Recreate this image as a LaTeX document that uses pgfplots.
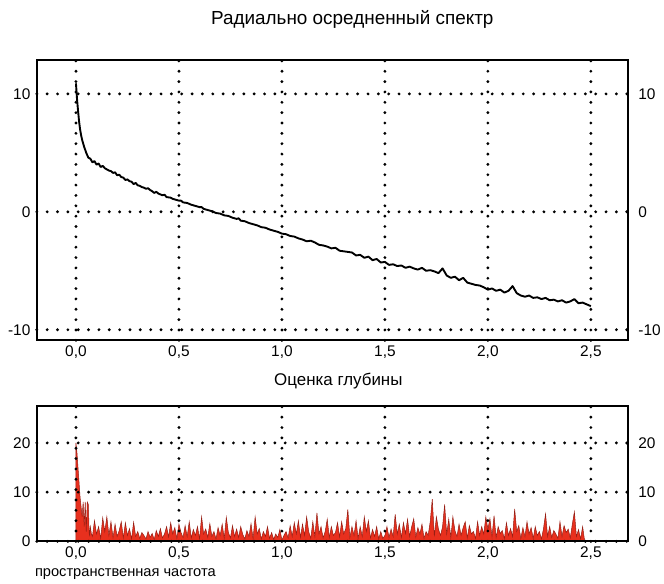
\documentclass[border=0pt]{standalone}
\usepackage{fontspec}
\setmainfont{Liberation Sans}
\usepackage{pgfplots}
\pgfplotsset{compat=1.18}

\definecolor{spred}{RGB}{232,48,30}
\definecolor{spdark}{RGB}{150,30,20}

\pgfplotsset{
  dotgrid/.style={line width=3.2bp, line cap=round, dash pattern=on 0pt off 10.4bp, black},
  base/.style={
    scale only axis, width=594bp,
    xmin=-0.19, xmax=2.68,
    axis line style={line width=2.2bp},
    major tick length=0pt,
    tick style={draw=none},
    grid=major, major grid style={dotgrid},
    axis on top,
    xtick={0,0.5,1,1.5,2,2.5},
    xticklabels={{0,0},{0,5},{1,0},{1,5},{2,0},{2,5}},
    tick label style={font=\fontsize{15.5bp}{18bp}\selectfont},
    xticklabel style={yshift=-2bp},
    yticklabel style={xshift=-3bp},
  },
  rightax/.style={
    scale only axis, width=594bp,
    xmin=-0.19, xmax=2.68,
    hide x axis,
    axis y line*=right,
    y axis line style={draw=none},
    major tick length=0pt,
    tick style={draw=none},
    tick label style={font=\fontsize{15.5bp}{18bp}\selectfont},
    yticklabel style={xshift=7bp},
  },
}

\begin{document}
\begin{tikzpicture}
\path (0,0) rectangle (664bp,-586bp);

% ---------- top axis ----------
\begin{axis}[base, at={(37bp,-60bp)}, anchor=north west, height=282bp,
  ymin=-10.9, ymax=12.9, ytick={-10,0,10}, yticklabels={-10,0,10}]
\addplot[black, line width=1.9bp, line join=round] coordinates {
(0.000,10.9) (0.005,9.6) (0.010,8.6) (0.015,7.7) (0.020,7.0) (0.025,6.5) (0.030,6.1)
(0.040,5.5) (0.050,5.0) (0.060,4.6) (0.070,4.5) (0.080,4.2) (0.090,4.3) (0.100,4.0)
(0.11,4.1) (0.12,3.8) (0.13,3.9) (0.14,3.7) (0.15,3.6) (0.16,3.5) (0.17,3.45) (0.18,3.3)
(0.19,3.35) (0.20,3.1) (0.21,3.15) (0.22,2.95) (0.23,2.9) (0.24,2.7) (0.25,2.75) (0.26,2.6)
(0.27,2.55) (0.28,2.35) (0.29,2.45) (0.30,2.25) (0.31,2.2) (0.32,2.1) (0.33,2.05) (0.34,1.95)
(0.35,2.0) (0.36,1.85) (0.37,1.75) (0.38,1.6) (0.39,1.7) (0.40,1.55)
(0.42,1.4) (0.43,1.45) (0.44,1.25) (0.46,1.2) (0.47,1.1) (0.48,1.05) (0.50,0.95) (0.51,0.95) (0.52,0.8) (0.54,0.75)
(0.56,0.6) (0.58,0.5) (0.60,0.4) (0.61,0.4) (0.62,0.25) (0.64,0.15) (0.66,0.05) (0.68,-0.1)
(0.70,-0.15) (0.72,-0.3) (0.74,-0.35) (0.76,-0.5) (0.78,-0.6) (0.79,-0.55) (0.80,-0.75) (0.82,-0.8)
(0.84,-0.95) (0.86,-1.05) (0.88,-1.15) (0.90,-1.3) (0.92,-1.35) (0.94,-1.5) (0.96,-1.6)
(0.98,-1.7) (1.00,-1.85) (1.02,-1.9) (1.04,-2.05) (1.06,-2.1) (1.08,-2.25) (1.10,-2.35)
(1.12,-2.5) (1.14,-2.45) (1.16,-2.6) (1.18,-2.8) (1.20,-2.85) (1.22,-2.95) (1.24,-3.1)
(1.26,-3.05) (1.28,-3.3) (1.30,-3.35) (1.32,-3.4) (1.34,-3.45) (1.36,-3.7) (1.38,-3.65)
(1.40,-3.9) (1.42,-3.8) (1.44,-4.1) (1.46,-4.0) (1.48,-4.3) (1.50,-4.25) (1.52,-4.5)
(1.54,-4.45) (1.56,-4.6) (1.58,-4.55) (1.60,-4.75) (1.62,-4.65) (1.64,-4.8) (1.66,-4.9)
(1.68,-4.75) (1.70,-5.0) (1.72,-4.95) (1.74,-5.05) (1.76,-5.2) (1.78,-4.8) (1.80,-5.4)
(1.82,-5.6) (1.84,-5.5) (1.86,-5.8) (1.88,-5.6) (1.90,-6.0) (1.92,-6.1) (1.94,-6.2)
(1.96,-6.25) (1.98,-6.4) (2.00,-6.6) (2.02,-6.5) (2.04,-6.7) (2.06,-6.6) (2.08,-6.85)
(2.10,-6.7) (2.12,-6.3) (2.14,-6.9) (2.16,-7.1) (2.18,-7.2) (2.20,-7.1) (2.22,-7.3)
(2.24,-7.25) (2.26,-7.4) (2.28,-7.3) (2.30,-7.5) (2.32,-7.45) (2.34,-7.6) (2.36,-7.5)
(2.38,-7.7) (2.40,-7.6) (2.42,-7.4) (2.44,-7.75) (2.46,-7.7) (2.48,-7.85) (2.50,-8.0)
};
\end{axis}
\begin{axis}[rightax, at={(37bp,-60bp)}, anchor=north west, height=282bp,
  ymin=-10.9, ymax=12.9, ytick={-10,0,10}, yticklabels={-10,0,10}]
\end{axis}

% ---------- bottom axis ----------
\begin{axis}[base, at={(37bp,-408bp)}, anchor=north west, height=136bp,
  ymin=0, ymax=27.5, ytick={0,10,20}, yticklabels={0,10,20}]
\addplot[draw=spdark, line width=0.5bp, fill=spred] table[row sep=\\] {
x y\\
0.000 20\\ 0.005 18\\ 0.010 15\\ 0.015 12\\ 0.020 9\\ 0.025 7\\ 0.030 5\\ 0.035 8\\
0.040 3\\ 0.045 8\\ 0.050 2\\ 0.055 8\\ 0.060 7.5\\ 0.065 1\\ 0.070 3\\ 0.075 1.5\\
0.08 1.0\\ 0.09 4.2\\ 0.10 1.5\\ 0.11 3.0\\ 0.12 0.6\\ 0.13 4.8\\ 0.14 2.0\\ 0.15 5.0\\ 0.16 1.2\\ 0.17 4.0\\
0.18 0.8\\ 0.19 3.5\\ 0.20 1.0\\ 0.21 2.2\\ 0.22 4.0\\ 0.23 0.7\\ 0.24 3.8\\ 0.25 1.2\\ 0.26 2.6\\ 0.27 0.5\\
0.28 3.9\\ 0.29 1.0\\ 0.30 2.0\\ 0.31 0.6\\ 0.32 1.8\\ 0.33 1.2\\ 0.34 0.5\\ 0.35 2.0\\ 0.36 0.8\\ 0.37 1.6\\
0.38 0.4\\ 0.39 2.2\\ 0.40 1.0\\ 0.41 2.6\\ 0.42 0.7\\ 0.43 1.5\\ 0.44 3.0\\ 0.45 0.9\\ 0.46 3.8\\ 0.47 1.5\\
0.48 2.8\\ 0.49 0.6\\ 0.50 3.5\\ 0.51 1.8\\ 0.52 0.8\\ 0.53 3.2\\ 0.54 1.0\\ 0.55 4.0\\ 0.56 0.7\\ 0.57 2.4\\
0.58 1.2\\ 0.59 3.0\\ 0.60 0.5\\ 0.61 5.0\\ 0.62 1.5\\ 0.63 2.5\\ 0.64 0.8\\ 0.65 3.6\\ 0.66 1.0\\ 0.67 2.0\\
0.68 0.5\\ 0.69 2.8\\ 0.70 1.2\\ 0.71 3.5\\ 0.72 0.6\\ 0.73 4.9\\ 0.74 1.8\\ 0.75 0.7\\ 0.76 3.2\\ 0.77 1.0\\
0.78 2.5\\ 0.79 0.8\\ 0.80 3.0\\ 0.81 1.4\\ 0.82 0.5\\ 0.83 2.2\\ 0.84 1.0\\ 0.85 3.6\\ 0.86 0.6\\ 0.87 5.0\\
0.88 1.5\\ 0.89 2.6\\ 0.90 0.5\\ 0.91 2.0\\ 0.92 1.0\\ 0.93 3.0\\ 0.94 0.6\\ 0.95 1.8\\ 0.96 0.4\\ 0.97 1.5\\
0.98 0.8\\ 0.99 2.4\\ 1.00 0.3\\ 1.01 1.2\\ 1.02 2.0\\ 1.03 0.7\\ 1.04 3.2\\ 1.05 1.0\\ 1.06 3.8\\ 1.07 1.5\\
1.08 4.2\\ 1.09 0.8\\ 1.10 3.5\\ 1.11 1.2\\ 1.12 5.0\\ 1.13 2.0\\ 1.14 0.6\\ 1.15 4.0\\ 1.16 1.0\\ 1.17 5.8\\
1.18 1.5\\ 1.19 3.0\\ 1.20 0.7\\ 1.21 2.0\\ 1.22 4.5\\ 1.23 0.8\\ 1.24 3.0\\ 1.25 1.2\\ 1.26 1.8\\ 1.27 3.8\\
1.28 0.9\\ 1.29 4.0\\ 1.30 1.5\\ 1.31 2.6\\ 1.32 6.5\\ 1.33 0.8\\ 1.34 3.0\\ 1.35 1.2\\ 1.36 4.2\\ 1.37 0.6\\
1.38 3.0\\ 1.39 1.0\\ 1.40 5.0\\ 1.41 2.0\\ 1.42 4.2\\ 1.43 0.7\\ 1.44 2.4\\ 1.45 1.0\\ 1.46 3.0\\ 1.47 0.5\\
1.48 2.0\\ 1.49 0.6\\ 1.50 1.2\\ 1.51 3.0\\ 1.52 0.8\\ 1.53 2.5\\ 1.54 1.0\\ 1.55 5.5\\ 1.56 1.5\\ 1.57 3.5\\
1.58 0.8\\ 1.59 3.8\\ 1.60 1.6\\ 1.61 4.5\\ 1.62 1.0\\ 1.63 3.0\\ 1.64 4.6\\ 1.65 0.9\\ 1.66 2.8\\ 1.67 1.5\\
1.68 3.5\\ 1.69 0.6\\ 1.70 2.0\\ 1.71 1.2\\ 1.72 4.0\\ 1.73 8.6\\ 1.74 1.0\\ 1.75 5.0\\ 1.76 2.5\\ 1.77 1.2\\
1.78 3.0\\ 1.79 7.5\\ 1.80 1.5\\ 1.81 4.5\\ 1.82 0.8\\ 1.83 5.0\\ 1.84 2.2\\ 1.85 1.0\\ 1.86 3.5\\ 1.87 1.2\\
1.88 2.8\\ 1.89 4.0\\ 1.90 0.7\\ 1.91 3.2\\ 1.92 1.5\\ 1.93 2.0\\ 1.94 0.6\\ 1.95 4.0\\ 1.96 1.2\\ 1.97 3.0\\
1.98 1.5\\ 1.99 5.0\\ 2.00 2.5\\ 2.01 4.6\\ 2.02 1.0\\ 2.03 5.2\\ 2.04 0.8\\ 2.05 3.0\\ 2.06 1.6\\ 2.07 2.2\\
2.08 0.5\\ 2.09 3.8\\ 2.10 1.2\\ 2.11 2.6\\ 2.12 1.0\\ 2.13 6.6\\ 2.14 2.0\\ 2.15 3.2\\ 2.16 0.6\\ 2.17 2.8\\
2.18 1.0\\ 2.19 4.0\\ 2.20 1.5\\ 2.21 2.8\\ 2.22 0.6\\ 2.23 3.0\\ 2.24 1.2\\ 2.25 2.0\\ 2.26 0.5\\ 2.27 2.6\\
2.28 5.6\\ 2.29 1.0\\ 2.30 3.0\\ 2.31 0.8\\ 2.32 2.2\\ 2.33 1.5\\ 2.34 0.6\\ 2.35 4.0\\ 2.36 1.0\\ 2.37 3.2\\
2.38 1.8\\ 2.39 2.5\\ 2.40 0.7\\ 2.41 3.5\\ 2.42 6.0\\ 2.43 1.0\\ 2.44 2.4\\ 2.45 0.5\\ 2.46 3.0\\ 2.47 0\\
} \closedcycle;
\end{axis}
\begin{axis}[rightax, at={(37bp,-408bp)}, anchor=north west, height=136bp,
  ymin=0, ymax=27.5, ytick={0,10,20}, yticklabels={0,10,20}]
\end{axis}

\node[font=\fontsize{19bp}{22bp}\selectfont] at (354bp,-20bp) {Радиально осредненный спектр};
\node[font=\fontsize{17bp}{20bp}\selectfont] at (340bp,-383bp) {Оценка глубины};
\node[font=\fontsize{14.7bp}{17bp}\selectfont, anchor=west, inner sep=0pt] at (35bp,-577bp) {пространственная частота};
\end{tikzpicture}
\end{document}
